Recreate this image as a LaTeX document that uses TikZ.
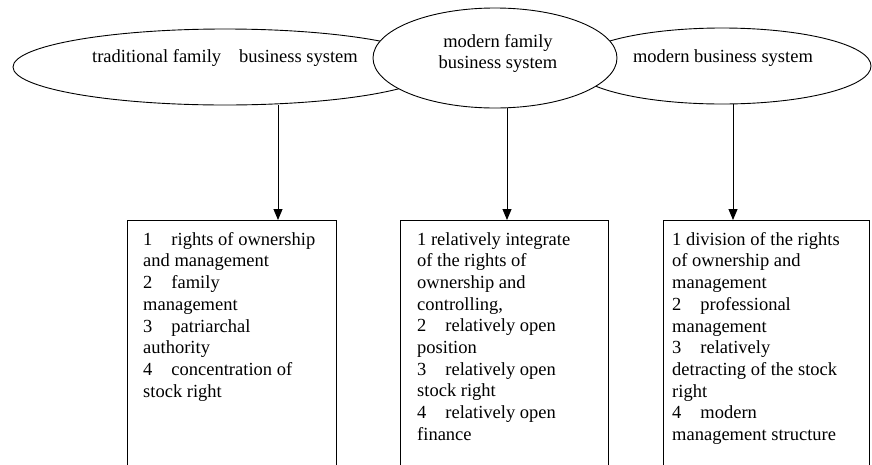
\documentclass[tikz,border=0pt]{standalone}
\usepackage{fontspec}
\setmainfont{Liberation Serif}
\usetikzlibrary{shapes.geometric,arrows.meta}
\tikzset{
  ell/.style={draw, ellipse, line width=0.9pt, fill=white, inner sep=0pt},
  lbl/.style={font=\fontsize{18.5}{21}\selectfont, align=center, inner sep=0pt},
  boxnode/.style={draw, line width=0.9pt, anchor=north west, inner sep=0pt},
  boxtext/.style={font=\fontsize{18.5}{21.7}\selectfont, align=left, anchor=north west, inner sep=0pt},
  conn/.style={line width=0.9pt, -{Triangle[length=11pt,width=9pt]}},
}
\newcommand{\gapA}{\hspace{19pt}}
\begin{document}
\begin{tikzpicture}[x=1pt,y=-1pt]
\useasboundingbox (0,0) rectangle (872,464);
\clip (0,0) rectangle (872,464);
% ellipses
\node[ell, minimum width=424pt, minimum height=76pt] (e1) at (225,67) {};
\node[ell, minimum width=298pt, minimum height=76pt] (e3) at (722,66) {};
\node[ell, minimum width=244pt, minimum height=100pt] (e2) at (495,58) {};
\node[lbl] (t1) at (225,58) {traditional family\hspace{18pt}business system};
\node[lbl] (t2) at (498,53) {modern family\\business system};
\node[lbl] (t3) at (723,58) {modern business system};
% boxes
\node[boxnode, minimum width=209pt, minimum height=260pt] (b1) at (127,220) {};
\node[boxnode, minimum width=208pt, minimum height=260pt] (b2) at (400,220) {};
\node[boxnode, minimum width=206pt, minimum height=260pt] (b3) at (663,220) {};
\node[boxtext] (x1) at (143,232) {1\gapA rights of ownership\\and management\\2\gapA family\\management\\3\gapA patriarchal\\authority\\4\gapA concentration of\\stock right};
\node[boxtext] (x2) at (417,232) {1 relatively integrate\\of the rights of\\ownership and\\controlling,\\2\gapA relatively open\\position\\3\gapA relatively open\\stock right\\4\gapA relatively open\\finance};
\node[boxtext] (x3) at (672,232) {1 division of the rights\\of ownership and\\management\\2\gapA professional\\management\\3\gapA relatively\\detracting of the stock\\right\\4\gapA modern\\management structure};
% connectors
\coordinate (s1) at (278,105);
\coordinate (s2) at (507,108);
\coordinate (s3) at (733,104);
\draw[conn] (s1) -- (s1 |- b1.north);
\draw[conn] (s2) -- (s2 |- b2.north);
\draw[conn] (s3) -- (s3 |- b3.north);
\end{tikzpicture}
\end{document}
